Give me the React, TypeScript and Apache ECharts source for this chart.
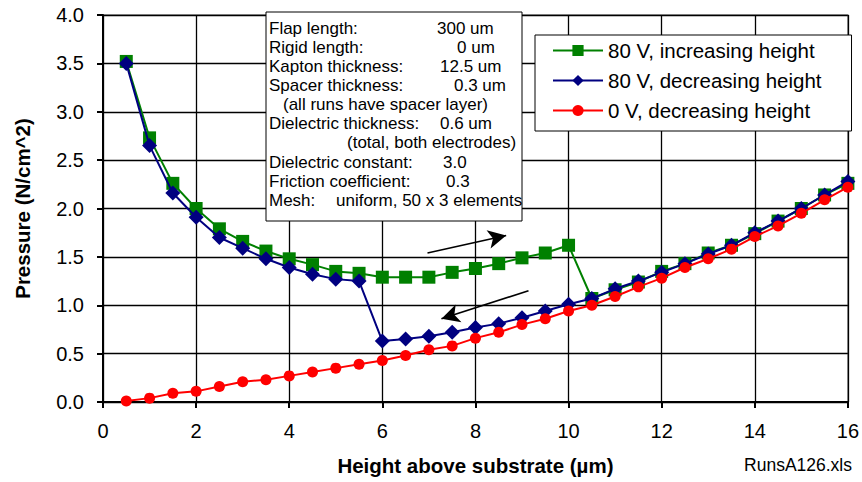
import React, { useEffect, useRef } from "react";
import * as echarts from "echarts";

const FONT = "'Liberation Sans', Arial, Helvetica, sans-serif";

// Gap heights (µm)
const heights = [
  0.5, 1, 1.5, 2, 2.5, 3, 3.5, 4, 4.5, 5, 5.5, 6, 6.5, 7, 7.5, 8,
  8.5, 9, 9.5, 10, 10.5, 11, 11.5, 12, 12.5, 13, 13.5, 14, 14.5, 15, 15.5, 16,
];

// Pressure (N/cm^2)
const up80 = [
  3.52, 2.73, 2.26, 2.0, 1.79, 1.66, 1.56, 1.48, 1.42, 1.35, 1.33, 1.29, 1.29, 1.29, 1.34, 1.38,
  1.43, 1.49, 1.54, 1.62, 1.07, 1.16, 1.24, 1.35, 1.43, 1.54, 1.62, 1.74, 1.87, 2.0, 2.14, 2.26,
];
const down80 = [
  3.5, 2.65, 2.16, 1.91, 1.7, 1.59, 1.48, 1.39, 1.32, 1.27, 1.25, 0.63, 0.65, 0.68, 0.72, 0.77,
  0.81, 0.87, 0.94, 1.01, 1.07, 1.17, 1.25, 1.34, 1.43, 1.53, 1.62, 1.75, 1.87, 2.0, 2.14, 2.28,
];
const down0 = [
  0.01, 0.04, 0.09, 0.11, 0.16, 0.21, 0.23, 0.27, 0.31, 0.35, 0.39, 0.43, 0.48, 0.54, 0.58, 0.66,
  0.72, 0.8, 0.86, 0.94, 1.0, 1.09, 1.19, 1.28, 1.39, 1.48, 1.58, 1.71, 1.82, 1.95, 2.09, 2.22,
];

const seriesNames = ["80 V, increasing height", "80 V, decreasing height", "0 V, decreasing height"];

// Direction arrows: [start, tip] in data coordinates
const arrowUp = [[6.97, 1.54], [8.66, 1.72]];
const arrowDown = [[9.14, 1.15], [7.27, 0.86]];

// Simulation parameters shown in the note box
const noteLabels = [
  "Flap length:",
  "Rigid length:",
  "Kapton thickness:",
  "Spacer thickness:",
  "(all runs have spacer layer)",
  "Dielectric thickness:",
  "",
  "Dielectric constant:",
  "Friction coefficient:",
  "Mesh:",
];
const noteValues = [
  "300 um",
  "0 um",
  "12.5 um",
  "0.3 um",
  "",
  "0.6 um",
  "(total, both electrodes)",
  "3.0",
  "0.3",
  "uniform, 50 x 3 elements",
];
const noteLabelX = [269, 269, 269, 269, 283, 269, 269, 269, 269, 269];
const noteValueX = [437, 457, 440, 454, 0, 440, 347, 443, 446, 336];

const fileName = "RunsA126.xls";

const pairs = (ys: number[]) => heights.map((h, i) => [h, ys[i]]);

export default function App() {
  const ref = useRef<HTMLDivElement>(null);

  useEffect(() => {
    if (!ref.current) return;
    const chart = echarts.init(ref.current, undefined, { renderer: "svg" });

    const noteFont = `17px ${FONT}`;
    const noteText: any[] = [];
    noteLabels.forEach((t, i) => {
      const y = 28.3 + i * 19.1;
      if (t) {
        noteText.push({
          type: "text",
          x: noteLabelX[i],
          y,
          z: 11,
          style: { text: t, font: noteFont, fill: "#000", textVerticalAlign: "middle" },
        });
      }
      if (noteValues[i]) {
        noteText.push({
          type: "text",
          x: noteValueX[i],
          y,
          z: 11,
          style: { text: noteValues[i], font: noteFont, fill: "#000", textVerticalAlign: "middle" },
        });
      }
    });

    const arrowLine = (pts: number[][]) => [
      { coord: pts[0], symbol: "none" },
      { coord: pts[1], symbol: "arrow" },
    ];

    const axisName = { fontSize: 20.5, fontWeight: "bold", color: "#000", fontFamily: FONT };

    chart.setOption({
      animation: false,
      backgroundColor: "#fff",
      textStyle: { fontFamily: FONT },
      grid: {
        left: 103,
        right: 13,
        top: 15,
        bottom: 80,
        show: true,
        borderColor: "#888",
        borderWidth: 1.5,
        backgroundColor: "transparent",
      },
      xAxis: {
        type: "value",
        min: 0,
        max: 16,
        interval: 2,
        name: "Height above substrate (µm)",
        nameLocation: "middle",
        nameGap: 53,
        nameTextStyle: axisName,
        axisLine: { show: true, onZero: false, lineStyle: { color: "#000", width: 2 } },
        axisTick: { show: true, inside: false, length: 6, lineStyle: { color: "#000", width: 2 } },
        axisLabel: { fontSize: 20, color: "#000", margin: 19, fontFamily: FONT },
        splitLine: { show: true, lineStyle: { color: "#000", width: 1.3 } },
      },
      yAxis: {
        type: "value",
        min: 0,
        max: 4,
        interval: 0.5,
        name: "Pressure (N/cm^2)",
        nameLocation: "middle",
        nameGap: 70,
        nameTextStyle: axisName,
        axisLine: { show: true, onZero: false, lineStyle: { color: "#000", width: 2 } },
        axisTick: { show: true, inside: false, length: 6, lineStyle: { color: "#000", width: 2 } },
        axisLabel: {
          fontSize: 20,
          color: "#000",
          margin: 19,
          fontFamily: FONT,
          formatter: (v: number) => v.toFixed(1),
        },
        splitLine: { show: true, lineStyle: { color: "#000", width: 1.3 } },
      },
      legend: {
        orient: "vertical",
        left: 535,
        top: 35,
        data: seriesNames,
        backgroundColor: "#fff",
        borderColor: "#000",
        borderWidth: 1,
        borderRadius: 0,
        padding: [5, 30, 10, 17],
        itemWidth: 50,
        itemHeight: 14,
        itemGap: 9,
        textStyle: { fontSize: 20.5, color: "#000", fontFamily: FONT, lineHeight: 20 },
      },
      graphic: [
        {
          type: "rect",
          shape: { x: 266, y: 12, width: 256, height: 209 },
          style: { fill: "#fff", stroke: "#000", lineWidth: 1 },
          z: 10,
        },
        ...noteText,
        {
          type: "text",
          right: 10,
          top: 456,
          style: { text: fileName, font: `17.5px ${FONT}`, fill: "#000" },
        },
      ],
      series: [
        {
          name: seriesNames[0],
          type: "line",
          data: pairs(up80),
          symbol: "rect",
          symbolSize: 13,
          color: "#008000",
          lineStyle: { color: "#008000", width: 2 },
          itemStyle: { color: "#008000" },
          z: 2,
          markLine: {
            silent: true,
            symbolSize: [14, 18],
            label: { show: false },
            lineStyle: { color: "#000", width: 1.6, type: "solid" },
            itemStyle: { color: "#000" },
            data: [arrowLine(arrowUp), arrowLine(arrowDown)],
          },
        },
        {
          name: seriesNames[1],
          type: "line",
          data: pairs(down80),
          symbol: "diamond",
          symbolSize: 15,
          color: "#000080",
          lineStyle: { color: "#000080", width: 2 },
          itemStyle: { color: "#000080" },
          z: 3,
        },
        {
          name: seriesNames[2],
          type: "line",
          data: pairs(down0),
          symbol: "circle",
          symbolSize: 11,
          color: "#ff0000",
          lineStyle: { color: "#ff0000", width: 2 },
          itemStyle: { color: "#ff0000" },
          z: 4,
        },
      ],
    });

    return () => chart.dispose();
  }, []);

  return (
    <div
      ref={ref}
      style={{ position: "fixed", left: 0, top: 0, width: 862, height: 482, background: "#fff" }}
    />
  );
}
